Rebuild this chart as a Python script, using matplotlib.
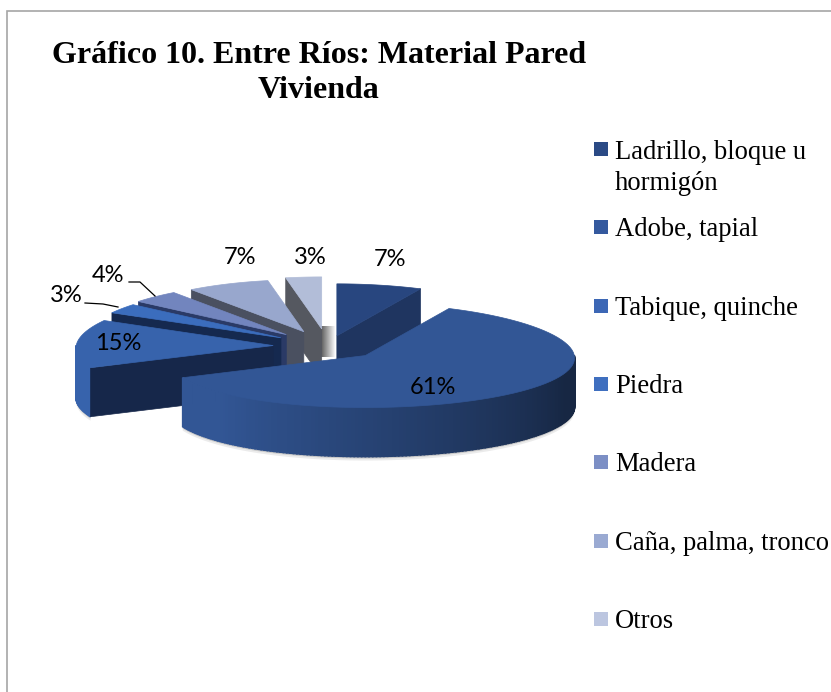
import numpy as np
import matplotlib
matplotlib.use("Agg")
import matplotlib.pyplot as plt
from matplotlib.patches import Polygon, Rectangle

#chart data
TITLE = "Gráfico 10. Entre Ríos: Material Pared\nVivienda"
categories = ["Ladrillo, bloque u\nhormigón", "Adobe, tapial", "Tabique, quinche", "Piedra",
              "Madera", "Caña, palma, tronco", "Otros"]
values = [7, 61, 15, 3, 4, 7, 3]
value_labels = ["7%", "61%", "15%", "3%", "4%", "7%", "3%"]

#styles
top_colors = ["#28467F", "#325695", "#3763AC", "#3B6DBD", "#7285BE", "#98A7CD", "#B2BDD8"]
legend_colors = ["#2B4A85", "#34599E", "#3C67B5", "#3F6FBF", "#7C8FC5", "#9AAAD2", "#BCC6E0"]
face_colors = ["#1F3560", "#1A2D55", "#16274A", "#15294F", "#2A3A66", "#4A5060", "#555860"]
explode = [0.2, 0.26, 0.27, 0.28, 0.3, 0.3, 0.33]

#pie geometry, in pixels of the picture
CX, CY = 328, 346
RX, RY = 203, 52
DEPTH = 49


def rim_point(cx, cy, angle):
    #angle is clockwise from 12 o'clock, in degrees, the rear looks a bit smaller
    a = np.radians(angle)
    rx = RX + 6 * np.sin(a) - 10 * np.cos(a)
    return cx + rx * np.sin(a), cy - RY * np.cos(a)


def rim_shade(color, angle):
    #right side of the wall is dark, left side keeps the slice colour
    t = np.clip((angle - 110) / 115, 0, 1)
    rgb = np.array(matplotlib.colors.to_rgb(color))
    return tuple(rgb * (0.45 + 0.55 * t))


def draw_slice(ax, i, start, end):
    mid = np.radians((start + end) / 2)
    cx = CX + explode[i] * RX * np.sin(mid)
    cy = CY - explode[i] * RY * np.cos(mid)
    angles = np.linspace(start, end, 80)
    rim = [rim_point(cx, cy, a) for a in angles]

    #soft shadow and the outer wall, only the part that faces the viewer
    wall = np.arange(max(start, 90), min(end, 270), 1.0)
    if len(wall) > 0:
        wall = np.append(wall, min(end, 270))
        low = [rim_point(cx, cy, a) for a in wall]
        for grow, alpha in [(4, 0.12), (2, 0.25)]:
            shadow = [(x, y + DEPTH + grow) for x, y in low] + [(x, y) for x, y in low[::-1]]
            ax.add_patch(Polygon(shadow, closed=True, fc="#606060", ec="none", alpha=alpha))
        for a0, a1 in zip(wall[:-1], wall[1:]):
            x0, y0 = rim_point(cx, cy, a0)
            x1, y1 = rim_point(cx, cy, a1)
            col = rim_shade(top_colors[i], a0)
            ax.add_patch(Polygon([(x0, y0), (x1, y1), (x1, y1 + DEPTH), (x0, y0 + DEPTH)],
                                 closed=True, fc=col, ec=col, lw=1.2))

    #cut faces, start edge shows on the left half, end edge on the right half
    for edge, show in [(start, np.sin(np.radians(start)) < 0), (end, np.sin(np.radians(end)) > 0)]:
        if show:
            x, y = rim_point(cx, cy, edge)
            ax.add_patch(Polygon([(cx, cy), (x, y), (x, y + DEPTH), (cx, cy + DEPTH)],
                                 closed=True, fc=face_colors[i], ec=face_colors[i], lw=0.5))

    #top of the slice
    ax.add_patch(Polygon([(cx, cy)] + rim, closed=True, fc=top_colors[i], ec=top_colors[i], lw=0.5))


fig = plt.figure(figsize=(8.31, 6.92), dpi=100)
ax = fig.add_axes([0, 0, 1, 1])
ax.set_xlim(0, 831)
ax.set_ylim(692, 0)
ax.axis("off")

#chart border, it runs off the picture on the right and at the bottom
ax.add_patch(Rectangle((7, 11), 900, 900, fc="white", ec="#A6A6A6", lw=1.2))

#grey to white sliver seen through the gap between the first and the last slice
for x, shade in zip(range(320, 336), np.linspace(0.33, 1.0, 16)):
    ax.add_patch(Rectangle((x, 326), 1, 31, fc=(shade, shade, shade), ec="none"))

#slice angles from the values
edges = np.cumsum([0] + values) / sum(values) * 360
order = [6, 5, 4, 3, 2, 0, 1]  #back to front
for i in order:
    draw_slice(ax, i, edges[i], edges[i + 1])

#value labels
label_xy = [(390, 259), (433, 387), (118, 343), (66, 296), (108, 275), (240, 257), (310, 257)]
for text, (x, y) in zip(value_labels, label_xy):
    ax.text(x, y, text, family="Lato", fontsize=17, ha="center", va="center", color="black")

#leader lines of the small slices
ax.plot([85, 103, 118], [303, 304, 307], color="black", lw=0.9)
ax.plot([129, 140, 155], [282, 282, 296], color="black", lw=0.9)

#title
ax.text(319, 73, TITLE, family="Liberation Serif", fontweight="bold", fontsize=23,
        ha="center", va="center", color="black", linespacing=1.26)

#legend
legend_y = [149, 227, 306, 384, 462, 541, 619]
for name, col, y in zip(categories, legend_colors, legend_y):
    ax.add_patch(Rectangle((594, y - 7), 14, 14, fc=col, ec="none"))
    ax.text(615, y - 9 if "\n" in name else y - 10, name, family="Liberation Serif", fontsize=19.2,
            ha="left", va="top", color="black", linespacing=1.33)

fig.savefig("out.png", dpi=100)
